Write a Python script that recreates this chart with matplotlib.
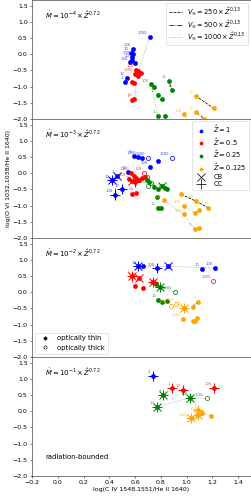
import matplotlib
matplotlib.use('Agg')
import matplotlib.pyplot as plt
from matplotlib.lines import Line2D

# kind: 'o' filled (optically thin), 'O' open (optically thick), 'x' CB, '+' CC
# ---- Mdot = 1e-4 ----
p1_blue = [(0.716, 0.54, '1000', 'o'), (0.582, 0.16, '100', 'o'), (0.565, 0.04, '10', 'o'),
           (0.585, 0.02, '', 'o'), (0.58, -0.08, '100', 'o'), (0.575, -0.17, '10', 'o'),
           (0.562, -0.25, '100', 'o'), (0.60, -0.27, '', 'o'), (0.539, -0.74, '10', 'o'),
           (0.523, -0.86, '1', 'o')]
p1_red = [(0.608, -0.47, '100', 'o'), (0.626, -0.51, '', 'o'), (0.647, -0.59, '', 'o'),
          (0.601, -0.61, '1000', 'o'), (0.621, -0.66, '', 'o'), (0.575, -0.85, '1', 'o'),
          (0.593, -0.88, '', 'o'), (0.575, -1.41, '1', 'o'), (0.595, -1.39, '10', 'o')]
p1_green = [(0.724, -0.93, '100', 'o'), (0.75, -1.02, '', 'o'), (0.776, -1.25, '10', 'o'),
            (0.812, -1.37, '1', 'o'), (0.861, -0.82, '10', 'o'), (0.889, -1.11, '1', 'o'),
            (0.776, -1.91, '1', 'o'), (0.832, -1.90, '', 'o')]
p1_orange = [(1.07, -1.28, '10', 'o'), (1.209, -1.67, '1', 'o'), (1.072, -1.78, '10', 'o'),
             (0.979, -1.86, '100', 'o'), (1.137, -2.0, '1', 'o')]
p1_lines = [('--', [0.861, 0.889], [-0.82, -1.11]), ('--', [1.07, 1.209], [-1.28, -1.67]),
            ('-.', [1.072, 1.137], [-1.78, -2.0]), ('-.', [0.601, 0.608], [-0.61, -0.47]),
            (':', [0.716, 0.626, 0.595], [0.54, -0.51, -1.39]),
            (':', [0.724, 0.776], [-0.93, -1.91]), (':', [0.979, 1.01], [-1.86, -2.05])]

# ---- Mdot = 1e-3 ----
p2_blue = [(0.59, 0.55, '1', 'o'), (0.626, 0.50, '1000', 'o'), (0.652, 0.48, '', 'o'),
           (0.70, 0.48, '1000', 'O'), (0.776, 0.37, '', 'o'), (0.887, 0.47, '1000', 'O'),
           (0.716, 0.19, '100', 'o'), (0.549, 0.04, '10', 'o'), (0.42, -0.22, '10', 'ox+'),
           (0.459, -0.09, '1', 'ox'), (0.497, -0.50, '10', 'o+'), (0.446, -0.68, '100', 'o+')]
p2_red = [(0.57, 0.0, '1000', 'o'), (0.59, -0.08, '', 'o'), (0.61, -0.15, '', 'o'),
          (0.58, -0.25, '10', 'ox'), (0.60, -0.28, '', 'o+'), (0.63, -0.22, '', 'o'),
          (0.65, -0.15, '', 'o'), (0.675, -0.10, '', 'o'), (0.67, 0.02, '100', 'O'),
          (0.69, -0.12, '', 'O'), (0.575, -0.63, '', 'o'), (0.606, -0.61, '10', 'o'),
          (0.55, -0.18, '100', 'o')]
p2_green = [(0.696, -0.20, '', 'o'), (0.709, -0.27, '', 'o'), (0.725, -0.30, '', 'O'),
            (0.70, -0.40, '100', 'O'), (0.747, -0.42, '', 'o'), (0.776, -0.47, '100', 'o'),
            (0.812, -0.38, '', 'ox'), (0.832, -0.45, '', 'o'), (0.85, -0.50, '100', 'o'),
            (0.768, -0.73, '', 'o'), (0.78, -1.06, '10', 'o'), (0.80, -1.06, '', 'o')]
p2_orange = [(0.959, -0.65, '', 'o'), (1.072, -0.86, '10', 'o'), (1.168, -1.07, '1', 'o'),
             (1.098, -1.14, '1', 'o'), (1.064, -1.22, '', 'o'), (0.979, -1.27, '100', 'o'),
             (0.827, -0.84, '100', 'o'), (1.062, -1.73, '10', 'o'), (1.10, -1.68, '', 'o'),
             (0.977, -1.01, '100', 'o')]
p2_lines = [('--', [0.42, 0.459], [-0.22, -0.09]), ('-.', [0.446, 0.446], [-0.45, -0.68]),
            ('--', [0.812, 0.85], [-0.38, -0.50]),
            ('--', [0.959, 1.072, 1.168], [-0.65, -0.86, -1.07]),
            (':', [0.827, 0.979, 1.062], [-0.84, -1.27, -1.73]),
            (':', [0.977, 1.064, 1.098], [-1.01, -1.22, -1.14])]

# ---- Mdot = 1e-2 ----
p3_blue = [(0.626, 0.80, '10', 'ox+'), (0.665, 0.80, '', 'o'), (0.768, 0.74, '100', 'o+'),
           (0.855, 0.80, '', 'ox'), (1.116, 0.73, '10', 'o'), (1.224, 0.76, '100', 'o')]
p3_red = [(0.575, 0.51, '1', 'ox+'), (0.632, 0.43, '10', 'ox'), (0.742, 0.33, '', 'ox+'),
          (0.60, 0.21, '1', 'o'), (0.665, 0.14, '', 'o'), (1.206, 0.35, '1000', 'O')]
p3_green = [(0.794, 0.17, '1000', 'ox+'), (0.76, 0.25, '', 'o'), (0.91, 0.01, '1000', 'O'),
            (0.781, -0.24, '10', 'o'), (0.807, -0.29, '', 'o'), (0.845, -0.26, '', 'o')]
p3_orange = [(1.09, -0.29, '1', 'o'), (1.05, -0.44, '', 'o'), (0.982, -0.49, '10', 'ox+'),
             (0.876, -0.41, '1000', 'O'), (0.92, -0.37, '100', 'O'), (0.974, -0.82, '1000', 'o'),
             (1.046, -0.89, '', 'o'), (1.065, -0.88, '', 'o'), (1.082, -0.80, '', 'o')]
p3_lines = [(':', [0.626, 0.855, 1.224], [0.80, 0.80, 0.76]), (':', [0.794, 0.91], [0.17, 0.01]),
            ('--', [1.05, 1.09], [-0.44, -0.29])]

# ---- Mdot = 1e-1 ----
p4_blue = [(0.737, 1.09, '1', 'o+')]
p4_red = [(0.889, 0.71, '1', 'o+'), (0.969, 0.66, '10', 'o+'), (1.211, 0.73, '100', 'o+')]
p4_green = [(0.82, 0.52, '1', 'ox+'), (1.026, 0.42, '100', 'ox+'), (0.768, 0.14, '10', 'ox+'),
            (1.155, 0.40, '1000', 'O')]
p4_orange = [(1.034, -0.22, '1000', 'ox+'), (1.09, -0.11, '', 'ox+'), (1.09, 0.04, '1', 'o+'),
             (1.116, -0.06, '1000', 'o'), (1.193, -0.13, '', 'o')]
p4_lines = [(':', [0.768, 1.026, 1.155], [0.14, 0.42, 0.40]), (':', [1.116, 1.193], [-0.06, -0.13])]

mdot_exp = ['-4', '-3', '-2', '-1']
zhat_labels = ['1', '0.5', '0.25', '0.125']
colors = ['blue', 'red', 'green', 'orange']

panels = [
    ([p1_blue, p1_red, p1_green, p1_orange], p1_lines),
    ([p2_blue, p2_red, p2_green, p2_orange], p2_lines),
    ([p3_blue, p3_red, p3_green, p3_orange], p3_lines),
    ([p4_blue, p4_red, p4_green, p4_orange], p4_lines),
]

line_styles = {'--': ('k', 1.2), '-.': ('k', 1.0), ':': ('gray', 1.0)}

fig = plt.figure(figsize=(5.6, 498 / 45), dpi=45)
left, width = 32 / 252, 219 / 252
h = 119 / 498
axes = []
for i in range(4):
    bottom = (22 + (3 - i) * 119) / 498
    ax = fig.add_axes([left, bottom, width, h], sharex=axes[0] if axes else None)
    axes.append(ax)

for i, (ax, (groups, lines)) in enumerate(zip(axes, panels)):
    for ls, xs, ys in lines:
        c, lw = line_styles[ls]
        ax.plot(xs, ys, linestyle=ls, color=c, lw=lw, zorder=1)
    for pts, c in zip(groups, colors):
        for x, y, lab, kind in pts:
            if 'O' in kind:
                ax.plot(x, y, 'o', ms=6.5, mfc='none', mec=c, mew=1.2, zorder=3)
            else:
                ax.plot(x, y, 'o', ms=6.5, color=c, zorder=3)
            if 'x' in kind:
                ax.plot(x, y, 'x', ms=14, color=c, mew=1.6, zorder=4)
            if '+' in kind:
                ax.plot(x, y, '+', ms=15, color=c, mew=1.6, zorder=4)
            if lab:
                ax.annotate(lab, (x, y), xytext=(-4, 3), textcoords='offset points',
                            ha='right', va='bottom', fontsize=6, color=c, alpha=0.75)
    ax.text(-0.1, 1.2, r'$\dot{M} = 10^{%s} \times \hat{Z}^{0.72}$' % mdot_exp[i],
            va='center', ha='left', fontsize=11)
    ax.set_xlim(-0.2, 1.5)
    ax.set_ylim(-2.0, 1.68)
    ax.set_yticks([-2.0, -1.5, -1.0, -0.5, 0.0, 0.5, 1.0, 1.5])
    if i < 3:
        ax.tick_params(labelbottom=False)

# legend: wind speeds
vinf = ['250', '500', '1000']
handles = [Line2D([], [], color=line_styles[ls][0], ls=ls, lw=1.2) for ls in ['--', '-.', ':']]
axes[0].legend(handles, [r'$V_\infty = %s \times \hat{Z}^{0.13}$' % v for v in vinf],
               loc='upper right', fontsize=10.5, labelspacing=0.15, borderaxespad=0.4)

# legend: metallicity + CB/CC
handles = [Line2D([], [], marker='o', ls='none', color=c, ms=5) for c in colors]
handles += [Line2D([], [], marker='x', ls='none', color='k', ms=13, mew=1.2),
            Line2D([], [], marker='+', ls='none', color='k', ms=15, mew=1.2)]
labels = [r'$\hat{Z} = %s$' % z for z in zhat_labels] + ['CB', 'CC']
axes[1].legend(handles, labels, loc='upper right', fontsize=10.5, labelspacing=0.2,
               borderaxespad=0.3)

# legend: optical depth
handles = [Line2D([], [], marker='o', ls='none', color='k', ms=5),
           Line2D([], [], marker='o', ls='none', mfc='none', mec='k', ms=5)]
axes[2].legend(handles, ['optically thin', 'optically thick'], loc='lower left', fontsize=11)

axes[3].text(-0.1, -1.42, 'radiation-bounded', va='center', ha='left', fontsize=11)
axes[3].set_xticks([-0.2, 0.0, 0.2, 0.4, 0.6, 0.8, 1.0, 1.2, 1.4])
axes[3].set_xlabel('log(C IV 1548,1551/He II 1640)', labelpad=2)
axes[1].set_ylabel('log(O VI 1032,1038/He II 1640)', labelpad=2)

fig.savefig('out.png', dpi=45)
